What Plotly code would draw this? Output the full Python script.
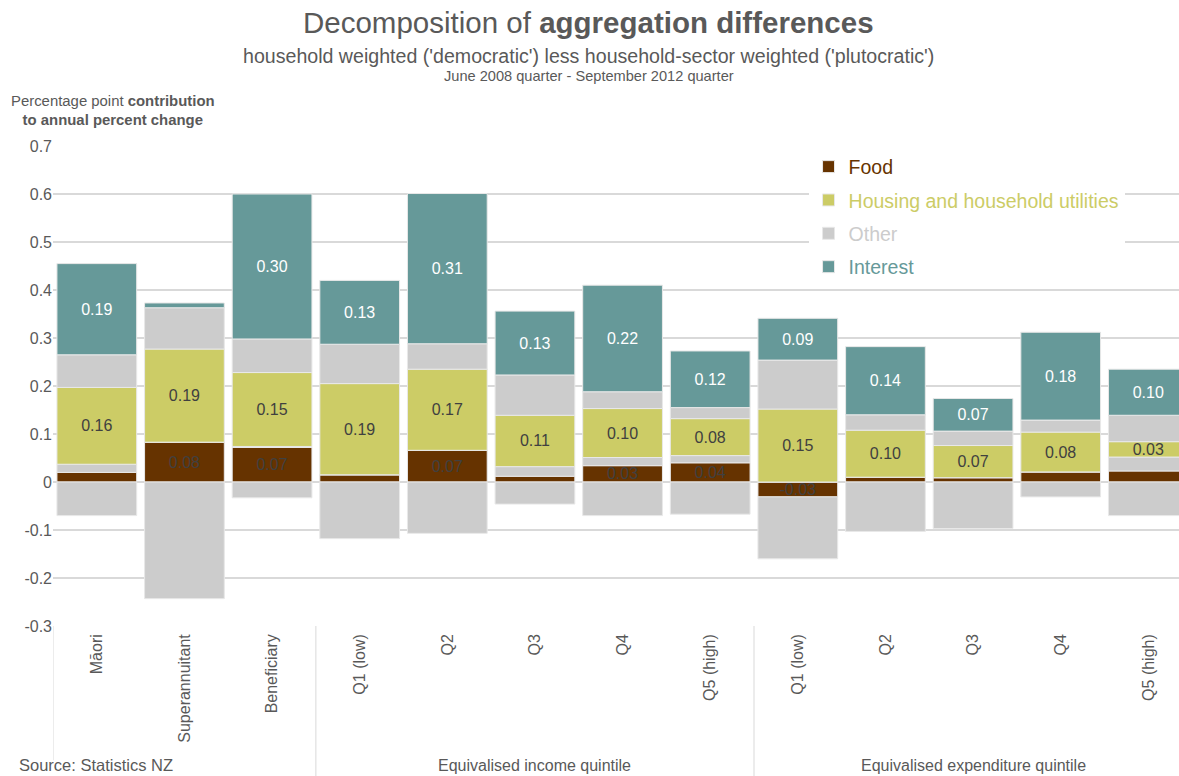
import plotly.graph_objects as go

categories = ["Māori", "Superannuitant", "Beneficiary",
              "Q1 (low)", "Q2", "Q3", "Q4", "Q5 (high)",
              "Q1 (low)", "Q2", "Q3", "Q4", "Q5 (high)"]
group_labels = ["Equivalised income quintile", "Equivalised expenditure quintile"]

food = [0.020, 0.083, 0.072, 0.015, 0.066, 0.012, 0.034, 0.040, -0.031, 0.010, 0.009, 0.021, 0.023]
other_low = [0.017, 0.000, 0.002, 0.000, 0.000, 0.020, 0.017, 0.015, 0.000, 0.000, 0.000, 0.000, 0.029]
housing = [0.160, 0.194, 0.154, 0.190, 0.169, 0.107, 0.102, 0.077, 0.152, 0.098, 0.067, 0.083, 0.032]
other_mid = [0.068, 0.086, 0.070, 0.082, 0.053, 0.084, 0.035, 0.023, 0.102, 0.032, 0.030, 0.025, 0.055]
interest = [0.190, 0.010, 0.302, 0.133, 0.313, 0.133, 0.222, 0.118, 0.087, 0.142, 0.068, 0.183, 0.096]
other_neg = [-0.070, -0.243, -0.033, -0.118, -0.107, -0.046, -0.070, -0.067, -0.129, -0.103, -0.097, -0.031, -0.070]

y_ticks = [-0.3, -0.2, -0.1, 0, 0.1, 0.2, 0.3, 0.4, 0.5, 0.6, 0.7]
y_tick_text = ["-0.3", "-0.2", "-0.1", "0", "0.1", "0.2", "0.3", "0.4", "0.5", "0.6", "0.7"]

C_FOOD = "#663300"
C_HOUS = "#CCCC66"
C_OTHER = "#CCCCCC"
C_INT = "#669999"
C_TEXT = "#595959"
C_LABEL = "#404040"
FONT = "Liberation Sans, Arial, sans-serif"

x = list(range(len(categories)))


def labels(vals):
    return [f"{v:.2f}" if abs(v) >= 0.03 else "" for v in vals]


fig = go.Figure()


def add(vals, name, color, show, group=None, text=None, tcolor=C_LABEL):
    kw = {}
    if text is not None:
        kw = dict(text=text, textposition="inside", insidetextanchor="middle",
                  textangle=0, constraintext="none",
                  insidetextfont=dict(color=tcolor, size=16, family=FONT))
    fig.add_trace(go.Bar(
        x=x, y=vals, name=name, showlegend=show, legendgroup=group,
        marker=dict(color=color, line=dict(color="#E8E8E8", width=1)),
        hoverinfo="y+name", **kw))


add(food, f"<span style='color:{C_FOOD}'>Food</span>", C_FOOD, True, "food", labels(food))
add(other_low, "Other", C_OTHER, False)
add(housing, f"<span style='color:{C_HOUS}'>Housing and household utilities</span>", C_HOUS, True, "housing", labels(housing))
add(other_mid, f"<span style='color:{C_OTHER}'>Other</span>", C_OTHER, True, "other")
add(interest, f"<span style='color:{C_INT}'>Interest</span>", C_INT, True, "interest", labels(interest), "white")
add(other_neg, "Other", C_OTHER, False)

shapes = []
for xv, y1 in [(-0.5, -0.28), (2.5, -0.32), (7.5, -0.32)]:
    shapes.append(dict(type="line", xref="x", yref="paper", x0=xv, x1=xv, y0=0, y1=y1,
                       line=dict(color="#D9D9D9", width=1)))

annotations = [
    dict(text="Decomposition of <b>aggregation differences</b>", xref="paper", yref="paper",
         x=0.476, y=1.258, xanchor="center", yanchor="middle", showarrow=False,
         font=dict(size=29.5, color=C_TEXT, family=FONT)),
    dict(text="household weighted ('democratic') less household-sector weighted ('plutocratic')",
         xref="paper", yref="paper", x=0.476, y=1.187, xanchor="center", yanchor="middle",
         showarrow=False, font=dict(size=19.6, color=C_TEXT, family=FONT)),
    dict(text="June 2008 quarter - September 2012 quarter", xref="paper", yref="paper",
         x=0.476, y=1.146, xanchor="center", yanchor="middle", showarrow=False,
         font=dict(size=14.6, color=C_TEXT, family=FONT)),
    dict(text="Percentage point <b>contribution</b><br><b>to annual percent change</b>",
         xref="paper", yref="paper", x=0.053, y=1.033, xanchor="center", yanchor="bottom",
         align="center", showarrow=False, font=dict(size=14.9, color=C_TEXT, family=FONT)),
    dict(text="Source: Statistics NZ", xref="paper", yref="paper", x=-0.032, y=-0.29,
         xanchor="left", yanchor="middle", showarrow=False,
         font=dict(size=16.5, color=C_TEXT, family=FONT)),
    dict(text=group_labels[0], xref="x", yref="paper", x=5, y=-0.29,
         xanchor="center", yanchor="middle", showarrow=False,
         font=dict(size=16, color=C_TEXT, family=FONT)),
    dict(text=group_labels[1], xref="x", yref="paper", x=10, y=-0.29,
         xanchor="center", yanchor="middle", showarrow=False,
         font=dict(size=16, color=C_TEXT, family=FONT)),
]

fig.update_layout(
    width=1179, height=776,
    margin=dict(l=53, r=0, t=146, b=150),
    barmode="relative", bargap=0.09,
    plot_bgcolor="white", paper_bgcolor="white",
    font=dict(family=FONT, color=C_TEXT),
    shapes=shapes, annotations=annotations,
    legend=dict(x=0.671, y=0.997, xanchor="left", yanchor="top",
                traceorder="grouped", tracegroupgap=5, bgcolor="white",
                font=dict(size=19.5, family=FONT)),
    xaxis=dict(range=[-0.5, 12.35], tickvals=x, ticktext=categories, tickangle=-90,
               tickfont=dict(size=16, color=C_TEXT), showgrid=False, zeroline=False,
               showline=False, ticks="", ticklabelstandoff=4),
    yaxis=dict(range=[-0.3, 0.7], tickvals=y_ticks, ticktext=y_tick_text,
               tickfont=dict(size=16, color=C_TEXT), showgrid=True, gridcolor="#D9D9D9",
               gridwidth=2, zeroline=True, zerolinecolor="#D9D9D9", zerolinewidth=2,
               showline=False, ticks=""),
)

fig.write_html("out.html", config={"displayModeBar": False},
               post_script="document.body.style.margin='0';")
